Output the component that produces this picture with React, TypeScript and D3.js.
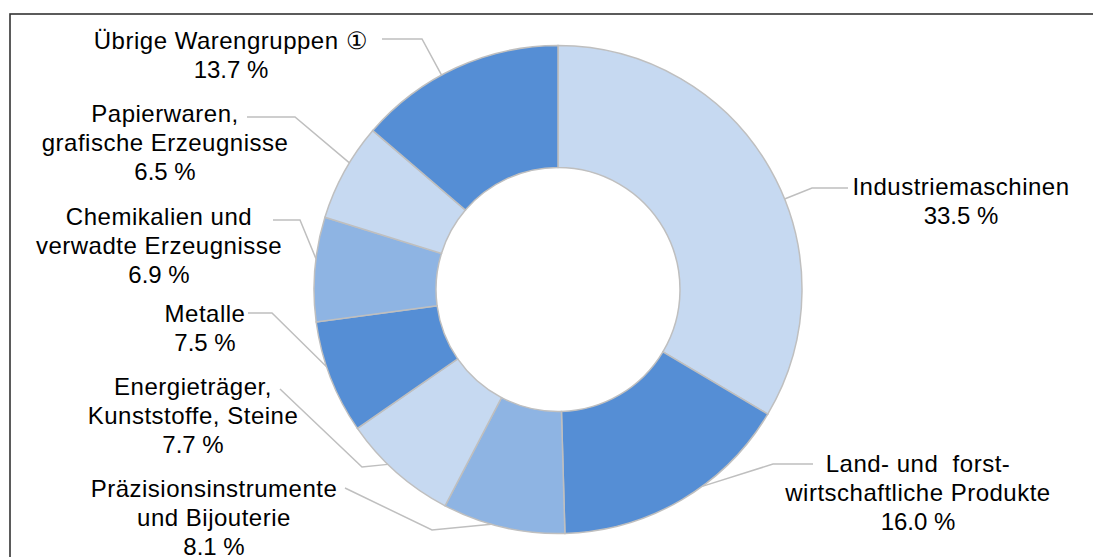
import React from "react";
import * as d3 from "d3";

const categories = [
  "Industriemaschinen",
  "Land- und forstwirtschaftliche Produkte",
  "Präzisionsinstrumente und Bijouterie",
  "Energieträger, Kunststoffe, Steine",
  "Metalle",
  "Chemikalien und verwadte Erzeugnisse",
  "Papierwaren, grafische Erzeugnisse",
  "Übrige Warengruppen ①",
];
const values = [33.5, 16.0, 8.1, 7.7, 7.5, 6.9, 6.5, 13.7];
const valueLabels = ["33.5 %", "16.0 %", "8.1 %", "7.7 %", "7.5 %", "6.9 %", "6.5 %", "13.7 %"];
const labelLines = [
  ["Industriemaschinen"],
  ["Land- und  forst-", "wirtschaftliche Produkte"],
  ["Präzisionsinstrumente", "und Bijouterie"],
  ["Energieträger,", "Kunststoffe, Steine"],
  ["Metalle"],
  ["Chemikalien und", "verwadte Erzeugnisse"],
  ["Papierwaren,", "grafische Erzeugnisse"],
  ["Übrige Warengruppen ①"],
];
const colors = ["#C6D9F1", "#558ED5", "#8EB4E3", "#C6D9F1", "#558ED5", "#8EB4E3", "#C6D9F1", "#558ED5"];

// label layout: text center x, first baseline y, leader start, leader elbow
const labelLayout = [
  { x: 961, y: 195, sx: 848, sy: 188, ex: 812, ey: 188 },
  { x: 918, y: 472, sx: 813, sy: 464, ex: 773, ey: 464 },
  { x: 214, y: 497, sx: 345, sy: 488, ex: 432, ey: 530 },
  { x: 193, y: 395, sx: 280, sy: 389, ex: 362, ey: 467 },
  { x: 205, y: 322, sx: 248, sy: 313, ex: 272, ey: 313 },
  { x: 159, y: 225, sx: 273, sy: 220, ex: 300, ey: 220 },
  { x: 165, y: 122, sx: 247, sy: 117, ex: 295, ey: 117 },
  { x: 231, y: 49, sx: 382, sy: 39, ex: 422, ey: 39 },
];

const W = 1093;
const H = 557;
const CX = 558;
const CY = 289.5;
const R = 244;
const r = 122;
const LINE_H = 29;

export default function App() {
  const pie = d3
    .pie<number>()
    .sort(null)
    .value((d) => d)
    .startAngle(0)
    .endAngle(2 * Math.PI);
  const arcs = pie(values);
  const arcGen = d3.arc<d3.PieArcDatum<number>>().innerRadius(r).outerRadius(R);

  const anchor = (i: number) => {
    const a = arcs[i];
    const L = labelLayout[i];
    const mid = (a.startAngle + a.endAngle) / 2;
    const span = a.endAngle - a.startAngle;
    let ang = Math.atan2(L.ex - CX, -(L.ey - CY));
    // bring into the same revolution as mid
    while (ang - mid > Math.PI) ang -= 2 * Math.PI;
    while (mid - ang > Math.PI) ang += 2 * Math.PI;
    const lim = span * 0.1;
    ang = Math.max(mid - lim, Math.min(mid + lim, ang));
    return [CX + R * Math.sin(ang), CY - R * Math.cos(ang)];
  };

  return (
    <svg
      width={W}
      height={H}
      style={{ position: "absolute", left: 0, top: 0, background: "#fff" }}
      fontFamily="'Liberation Sans', Arial, sans-serif"
    >
      <rect x={10} y={14} width={1200} height={700} fill="#fff" stroke="#333" strokeWidth={1.6} />
      <g transform={`translate(${CX},${CY})`}>
        {arcs.map((a, i) => (
          <path key={categories[i]} d={arcGen(a) || ""} fill={colors[i]} stroke="#BFBFBF" strokeWidth={1.5} />
        ))}
      </g>
      {labelLayout.map((L, i) => {
        const [ax, ay] = anchor(i);
        return (
          <polyline
            key={"l" + i}
            points={`${L.sx},${L.sy} ${L.ex},${L.ey} ${ax},${ay}`}
            fill="none"
            stroke="#BFBFBF"
            strokeWidth={1.5}
          />
        );
      })}
      {labelLayout.map((L, i) => {
        const lines = labelLines[i];
        return (
          <text key={"t" + i} textAnchor="middle" fontSize={24} fill="#000">
            {lines.map((ln, j) => (
              <tspan key={j} x={L.x} y={L.y + j * LINE_H} letterSpacing={0.5} style={{ whiteSpace: "pre" }}>
                {ln}
              </tspan>
            ))}
            <tspan x={L.x} y={L.y + lines.length * LINE_H}>
              {valueLabels[i]}
            </tspan>
          </text>
        );
      })}
    </svg>
  );
}
